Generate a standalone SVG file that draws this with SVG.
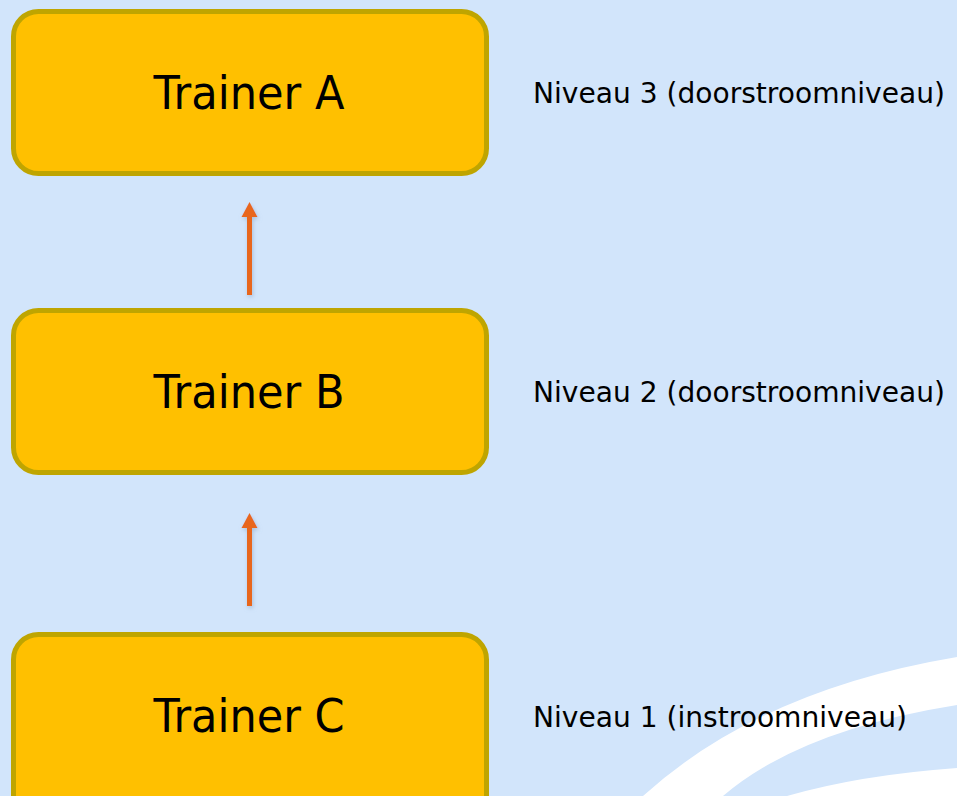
<svg xmlns="http://www.w3.org/2000/svg" width="957" height="796" viewBox="0 0 957 796">
  <defs>
    <style>
      .box { fill: #FFC000; stroke: #BFA500; stroke-width: 5; }
      .title { font-family: "DejaVu Sans", "Liberation Sans", sans-serif; font-size: 46px; fill: #000; text-anchor: middle; }
      .lbl { font-family: "DejaVu Sans", "Liberation Sans", sans-serif; font-size: 28px; fill: #000; }
      .shaft { stroke: #E8661E; stroke-width: 5; fill: none; }
      .head { fill: #E8661E; }
    </style>
    <filter id="sh" x="-50%" y="-20%" width="200%" height="140%">
      <feGaussianBlur in="SourceAlpha" stdDeviation="2"/>
      <feOffset dx="1" dy="2" result="b"/>
      <feFlood flood-color="#8FA6C4" flood-opacity="0.6"/>
      <feComposite in2="b" operator="in"/>
      <feMerge><feMergeNode/><feMergeNode in="SourceGraphic"/></feMerge>
    </filter>
  </defs>
  <rect x="0" y="0" width="957" height="796" fill="#D2E5FB"/>
  <g id="swoosh" fill="#FFFFFF">
    <path d="M643,796 Q760,690 957,657 L957,705 Q800,730 723,796 Z"/>
    <path d="M787,796 Q860,775 957,768 L957,796 Z"/>
  </g>
  <g id="connectors" filter="url(#sh)">
    <g id="arrow-b-a">
      <line class="shaft" x1="249.5" y1="295" x2="249.5" y2="214"/>
      <polygon class="head" points="249.5,202 257.5,217 241.5,217"/>
    </g>
    <g id="arrow-c-b">
      <line class="shaft" x1="249.5" y1="606" x2="249.5" y2="525"/>
      <polygon class="head" points="249.5,513 257.5,528 241.5,528"/>
    </g>
  </g>
  <g id="trainer-a">
    <rect class="box" x="13.5" y="11.5" width="473" height="162" rx="25" ry="25"/>
    <text class="title" x="249" y="109" textLength="191" lengthAdjust="spacingAndGlyphs">Trainer A</text>
  </g>
  <g id="trainer-b">
    <rect class="box" x="13.5" y="310.5" width="473" height="162" rx="25" ry="25"/>
    <text class="title" x="249" y="408" textLength="191" lengthAdjust="spacingAndGlyphs">Trainer B</text>
  </g>
  <g id="trainer-c">
    <rect class="box" x="13.5" y="634.5" width="473" height="200" rx="25" ry="25"/>
    <text class="title" x="249" y="732" textLength="191" lengthAdjust="spacingAndGlyphs">Trainer C</text>
  </g>
  <g id="label-3">
    <text class="lbl" x="533" y="103" textLength="412" lengthAdjust="spacingAndGlyphs">Niveau 3 (doorstroomniveau)</text>
  </g>
  <g id="label-2">
    <text class="lbl" x="533" y="402" textLength="412" lengthAdjust="spacingAndGlyphs">Niveau 2 (doorstroomniveau)</text>
  </g>
  <g id="label-1">
    <text class="lbl" x="533" y="727" textLength="374" lengthAdjust="spacingAndGlyphs">Niveau 1 (instroomniveau)</text>
  </g>
</svg>
